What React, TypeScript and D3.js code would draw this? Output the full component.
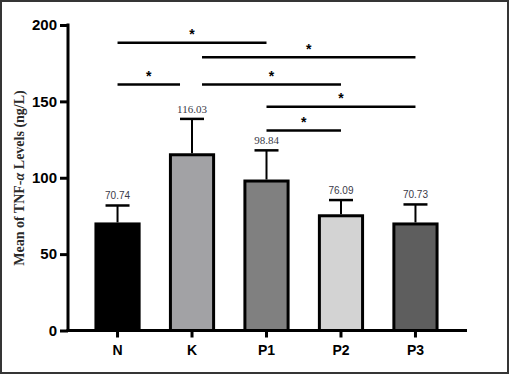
import * as React from 'react';
import * as d3 from 'd3';

// group names, means, SD
const groups = ['N', 'K', 'P1', 'P2', 'P3'];
const means = [70.74, 116.03, 98.84, 76.09, 70.73];
const sds = [11.1, 22.5, 19.1, 9.3, 11.8];
const barColors = ['#000000', '#a2a2a5', '#808080', '#d3d3d3', '#5e5e5e'];
const yTicks = [0, 50, 100, 150, 200];

// significance pairs and the y-level (in ng/L) of each bracket
const sigFrom = ['N', 'K', 'N', 'K', 'P1', 'P1'];
const sigTo = ['P1', 'P3', 'K', 'P2', 'P3', 'P2'];
const sigLevel = [188.3, 178.9, 161, 161, 146.4, 131];

export default function App() {
  const ref = React.useRef<SVGSVGElement>(null);

  React.useEffect(() => {
    const svg = d3.select(ref.current);
    svg.selectAll('*').remove();

    const W = 509, H = 374;
    const left = 68, right = 465, top = 25, bottom = 330.5;

    svg.append('rect')
      .attr('x', 1).attr('y', 1)
      .attr('width', W - 2).attr('height', H - 2)
      .attr('fill', '#fff')
      .attr('stroke', '#353535')
      .attr('stroke-width', 2);

    const x = d3.scaleBand()
      .domain(groups)
      .range([left, right])
      .paddingInner(0.38)
      .paddingOuter(0.355);
    const y = d3.scaleLinear().domain([0, 200]).range([bottom, top]);
    const cx = (g: string) => (x(g) as number) + x.bandwidth() / 2;

    // bars (outer edge of the stroke sits on the value)
    svg.append('g').selectAll('rect')
      .data(groups)
      .enter()
      .append('rect')
      .attr('x', (g) => (x(g) as number) + 1.5)
      .attr('width', x.bandwidth() - 3)
      .attr('y', (g, i) => y(means[i]) + 1.5)
      .attr('height', (g, i) => bottom - y(means[i]) - 1.5)
      .attr('fill', (g, i) => barColors[i])
      .attr('stroke', '#000')
      .attr('stroke-width', 3);

    // error bars
    const eb = svg.append('g').attr('stroke', '#000');
    groups.forEach((g, i) => {
      const yt = y(means[i] + sds[i]);
      eb.append('line')
        .attr('x1', cx(g)).attr('x2', cx(g))
        .attr('y1', y(means[i])).attr('y2', yt)
        .attr('stroke-width', 2);
      eb.append('line')
        .attr('x1', cx(g) - 12).attr('x2', cx(g) + 12)
        .attr('y1', yt).attr('y2', yt)
        .attr('stroke-width', 2.5);
      const serif = g === 'K' || g === 'P1';
      svg.append('text')
        .attr('x', cx(g))
        .attr('y', yt - 6)
        .attr('text-anchor', 'middle')
        .style('font-family', serif ? '"Liberation Serif", serif' : '"Liberation Sans", Arial, sans-serif')
        .style('font-size', serif ? '11px' : '10px')
        .style('fill', '#3a3a48')
        .text(means[i].toFixed(2));
    });

    // y axis
    const yAxis = svg.append('g')
      .attr('transform', `translate(${left},0)`)
      .call(d3.axisLeft(y).tickValues(yTicks).tickSize(8).tickSizeOuter(0).tickPadding(3));
    yAxis.select('.domain').attr('stroke-width', 3).attr('d', `M0,${bottom + 1.5}V${top - 1.5}`);
    yAxis.selectAll('.tick line').attr('stroke-width', 3);
    yAxis.selectAll('.tick text')
      .style('font-family', '"Liberation Sans", Arial, sans-serif')
      .style('font-size', '15px')
      .style('font-weight', 'bold')
      .style('fill', '#000');

    // x axis
    const xAxis = svg.append('g')
      .attr('transform', `translate(0,${bottom})`)
      .call(d3.axisBottom(x).tickSize(7).tickSizeOuter(0).tickPadding(8));
    xAxis.select('.domain').attr('stroke-width', 3).attr('d', `M${left - 1.5},0H467`);
    xAxis.selectAll('.tick line').attr('stroke-width', 3);
    xAxis.selectAll('.tick text')
      .style('font-family', '"Liberation Sans", Arial, sans-serif')
      .style('font-size', '14px')
      .style('font-weight', 'bold')
      .style('fill', '#000');

    // y title
    svg.append('text')
      .attr('transform', 'translate(24,178) rotate(-90)')
      .attr('text-anchor', 'middle')
      .style('font-family', '"Liberation Serif", "Times New Roman", serif')
      .style('font-size', '14px')
      .style('font-weight', 'bold')
      .style('fill', '#2a2a2a')
      .text('Mean of TNF-')
      .append('tspan').style('font-style', 'italic').text('α')
      .append('tspan').style('font-style', 'normal').text(' Levels (ng/L)');

    // significance brackets; lines next to K are pulled in a little
    const sig = svg.append('g');
    sigFrom.forEach((a, i) => {
      const b = sigTo[i];
      const x1 = cx(a) + (a === 'K' ? 10 : 0);
      const x2 = cx(b) - (b === 'K' ? 12 : 0);
      const yl = y(sigLevel[i]);
      sig.append('line')
        .attr('x1', x1).attr('x2', x2)
        .attr('y1', yl).attr('y2', yl)
        .attr('stroke', '#000')
        .attr('stroke-width', 2.5);
      sig.append('text')
        .attr('x', (x1 + x2) / 2)
        .attr('y', yl - 3.5)
        .attr('text-anchor', 'middle')
        .style('font-family', '"Liberation Sans", Arial, sans-serif')
        .style('font-size', '14px')
        .style('font-weight', 'bold')
        .text('*');
    });
  }, []);

  return (
    <svg
      ref={ref}
      width={509}
      height={374}
      style={{ position: 'fixed', left: 0, top: 0, display: 'block' }}
    />
  );
}
